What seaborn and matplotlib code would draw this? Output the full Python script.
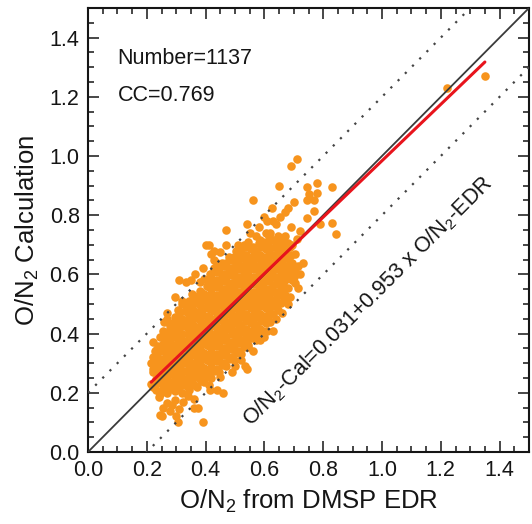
import numpy as np
import pandas as pd
import matplotlib
matplotlib.use("Agg")
import matplotlib.pyplot as plt
from matplotlib.ticker import MultipleLocator
import seaborn as sns

# ---------------- data ----------------
n_points = 1137
cc_value = 0.769
fit_intercept = 0.031
fit_slope = 0.953
band_offset = 0.2

# dense core of the cloud (x = O/N2 EDR, y = O/N2 calculation)
core_left = [
    (0.22, 0.22), (0.23, 0.245), (0.22, 0.27), (0.23, 0.295), (0.22, 0.32), (0.23, 0.345), (0.22, 0.37),
    (0.245, 0.195), (0.255, 0.215), (0.245, 0.24), (0.255, 0.265), (0.245, 0.29), (0.255, 0.315),
    (0.245, 0.34), (0.255, 0.365), (0.245, 0.39), (0.255, 0.41),
    (0.27, 0.20), (0.28, 0.225), (0.27, 0.25), (0.28, 0.275), (0.27, 0.30), (0.28, 0.325), (0.27, 0.35),
    (0.28, 0.375), (0.27, 0.40), (0.28, 0.425), (0.27, 0.45),
    (0.295, 0.205), (0.305, 0.23), (0.295, 0.255), (0.305, 0.28), (0.295, 0.305), (0.305, 0.33),
    (0.295, 0.355), (0.305, 0.38), (0.295, 0.405), (0.305, 0.43), (0.295, 0.455), (0.305, 0.48),
    (0.32, 0.20), (0.33, 0.225), (0.32, 0.25), (0.33, 0.275), (0.32, 0.30), (0.33, 0.325), (0.32, 0.35),
    (0.33, 0.375), (0.32, 0.40), (0.33, 0.425), (0.32, 0.45), (0.33, 0.475), (0.32, 0.50),
    (0.345, 0.21), (0.355, 0.235), (0.345, 0.26), (0.355, 0.285), (0.345, 0.31), (0.355, 0.335),
    (0.345, 0.36), (0.355, 0.385), (0.345, 0.41), (0.355, 0.435), (0.345, 0.46), (0.355, 0.485),
    (0.345, 0.51), (0.355, 0.535),
    (0.37, 0.22), (0.38, 0.245), (0.37, 0.27), (0.38, 0.295), (0.37, 0.32), (0.38, 0.345), (0.37, 0.37),
    (0.38, 0.395), (0.37, 0.42), (0.38, 0.445), (0.37, 0.47), (0.38, 0.495), (0.37, 0.52), (0.38, 0.545),
    (0.395, 0.235), (0.405, 0.26), (0.395, 0.285), (0.405, 0.31), (0.395, 0.335), (0.405, 0.36),
    (0.395, 0.385), (0.405, 0.41), (0.395, 0.435), (0.405, 0.46), (0.395, 0.485), (0.405, 0.51),
    (0.395, 0.535), (0.405, 0.56), (0.395, 0.585),
]
core_mid = [
    (0.42, 0.25), (0.43, 0.275), (0.42, 0.30), (0.43, 0.325), (0.42, 0.35), (0.43, 0.375), (0.42, 0.40),
    (0.43, 0.425), (0.42, 0.45), (0.43, 0.475), (0.42, 0.50), (0.43, 0.525), (0.42, 0.55), (0.43, 0.575),
    (0.42, 0.60), (0.43, 0.62),
    (0.445, 0.27), (0.455, 0.295), (0.445, 0.32), (0.455, 0.345), (0.445, 0.37), (0.455, 0.395),
    (0.445, 0.42), (0.455, 0.445), (0.445, 0.47), (0.455, 0.495), (0.445, 0.52), (0.455, 0.545),
    (0.445, 0.57), (0.455, 0.595), (0.445, 0.62), (0.455, 0.64),
    (0.47, 0.29), (0.48, 0.315), (0.47, 0.34), (0.48, 0.365), (0.47, 0.39), (0.48, 0.415), (0.47, 0.44),
    (0.48, 0.465), (0.47, 0.49), (0.48, 0.515), (0.47, 0.54), (0.48, 0.565), (0.47, 0.59), (0.48, 0.615),
    (0.47, 0.64), (0.48, 0.66),
    (0.495, 0.31), (0.505, 0.335), (0.495, 0.36), (0.505, 0.385), (0.495, 0.41), (0.505, 0.435),
    (0.495, 0.46), (0.505, 0.485), (0.495, 0.51), (0.505, 0.535), (0.495, 0.56), (0.505, 0.585),
    (0.495, 0.61), (0.505, 0.635), (0.495, 0.66), (0.505, 0.68),
    (0.52, 0.33), (0.53, 0.355), (0.52, 0.38), (0.53, 0.405), (0.52, 0.43), (0.53, 0.455), (0.52, 0.48),
    (0.53, 0.505), (0.52, 0.53), (0.53, 0.555), (0.52, 0.58), (0.53, 0.605), (0.52, 0.63), (0.53, 0.655),
    (0.52, 0.68), (0.53, 0.70),
]
core_right = [
    (0.545, 0.36), (0.555, 0.385), (0.545, 0.41), (0.555, 0.435), (0.545, 0.46), (0.555, 0.485),
    (0.545, 0.51), (0.555, 0.535), (0.545, 0.56), (0.555, 0.585), (0.545, 0.61), (0.555, 0.635),
    (0.545, 0.66), (0.555, 0.685), (0.545, 0.71),
    (0.57, 0.38), (0.58, 0.405), (0.57, 0.43), (0.58, 0.455), (0.57, 0.48), (0.58, 0.505), (0.57, 0.53),
    (0.58, 0.555), (0.57, 0.58), (0.58, 0.605), (0.57, 0.63), (0.58, 0.655), (0.57, 0.68), (0.58, 0.705),
    (0.57, 0.73),
    (0.595, 0.41), (0.605, 0.435), (0.595, 0.46), (0.605, 0.485), (0.595, 0.51), (0.605, 0.535),
    (0.595, 0.56), (0.605, 0.585), (0.595, 0.61), (0.605, 0.635), (0.595, 0.66), (0.605, 0.685),
    (0.595, 0.71), (0.605, 0.74),
    (0.62, 0.44), (0.63, 0.465), (0.62, 0.49), (0.63, 0.515), (0.62, 0.54), (0.63, 0.565), (0.62, 0.59),
    (0.63, 0.615), (0.62, 0.64), (0.63, 0.665), (0.62, 0.69), (0.63, 0.715), (0.62, 0.74),
    (0.645, 0.48), (0.655, 0.505), (0.645, 0.53), (0.655, 0.555), (0.645, 0.58), (0.655, 0.605),
    (0.645, 0.63), (0.655, 0.655), (0.645, 0.68), (0.655, 0.705), (0.645, 0.73),
    (0.67, 0.53), (0.68, 0.555), (0.67, 0.58), (0.68, 0.605), (0.67, 0.63), (0.68, 0.655), (0.67, 0.68),
    (0.68, 0.705), (0.67, 0.73),
    (0.695, 0.58), (0.705, 0.61), (0.695, 0.64), (0.705, 0.67), (0.695, 0.70),
]
# further points packed between the ones above (the core is solid orange)
core_fill_left = [
    (0.236, 0.232), (0.239, 0.257), (0.236, 0.282), (0.239, 0.307), (0.236, 0.332), (0.239, 0.357),
    (0.261, 0.207), (0.264, 0.232), (0.261, 0.257), (0.264, 0.282), (0.261, 0.307), (0.264, 0.332),
    (0.261, 0.357), (0.264, 0.382), (0.261, 0.405),
    (0.286, 0.212), (0.289, 0.237), (0.286, 0.262), (0.289, 0.287), (0.286, 0.312), (0.289, 0.337),
    (0.286, 0.362), (0.289, 0.387), (0.286, 0.412), (0.289, 0.437),
    (0.311, 0.212), (0.314, 0.237), (0.311, 0.262), (0.314, 0.287), (0.311, 0.312), (0.314, 0.337),
    (0.311, 0.362), (0.314, 0.387), (0.311, 0.412), (0.314, 0.437), (0.311, 0.462),
    (0.336, 0.222), (0.339, 0.247), (0.336, 0.272), (0.339, 0.297), (0.336, 0.322), (0.339, 0.347),
    (0.336, 0.372), (0.339, 0.397), (0.336, 0.422), (0.339, 0.447), (0.336, 0.472), (0.339, 0.497),
    (0.361, 0.227), (0.364, 0.252), (0.361, 0.277), (0.364, 0.302), (0.361, 0.327), (0.364, 0.352),
    (0.361, 0.377), (0.364, 0.402), (0.361, 0.427), (0.364, 0.452), (0.361, 0.477), (0.364, 0.502),
    (0.361, 0.527),
    (0.386, 0.24), (0.389, 0.265), (0.386, 0.29), (0.389, 0.315), (0.386, 0.34), (0.389, 0.365),
    (0.386, 0.39), (0.389, 0.415), (0.386, 0.44), (0.389, 0.465), (0.386, 0.49), (0.389, 0.515),
    (0.386, 0.54),
]
core_fill_mid = [
    (0.411, 0.257), (0.414, 0.282), (0.411, 0.307), (0.414, 0.332), (0.411, 0.357), (0.414, 0.382),
    (0.411, 0.407), (0.414, 0.432), (0.411, 0.457), (0.414, 0.482), (0.411, 0.507), (0.414, 0.532),
    (0.411, 0.557), (0.414, 0.582),
    (0.436, 0.282), (0.439, 0.307), (0.436, 0.332), (0.439, 0.357), (0.436, 0.382), (0.439, 0.407),
    (0.436, 0.432), (0.439, 0.457), (0.436, 0.482), (0.439, 0.507), (0.436, 0.532), (0.439, 0.557),
    (0.436, 0.582), (0.439, 0.607),
    (0.461, 0.302), (0.464, 0.327), (0.461, 0.352), (0.464, 0.377), (0.461, 0.402), (0.464, 0.427),
    (0.461, 0.452), (0.464, 0.477), (0.461, 0.502), (0.464, 0.527), (0.461, 0.552), (0.464, 0.577),
    (0.461, 0.602), (0.464, 0.627),
    (0.486, 0.322), (0.489, 0.347), (0.486, 0.372), (0.489, 0.397), (0.486, 0.422), (0.489, 0.447),
    (0.486, 0.472), (0.489, 0.497), (0.486, 0.522), (0.489, 0.547), (0.486, 0.572), (0.489, 0.597),
    (0.486, 0.622), (0.489, 0.647),
    (0.511, 0.342), (0.514, 0.367), (0.511, 0.392), (0.514, 0.417), (0.511, 0.442), (0.514, 0.467),
    (0.511, 0.492), (0.514, 0.517), (0.511, 0.542), (0.514, 0.567), (0.511, 0.592), (0.514, 0.617),
    (0.511, 0.642), (0.514, 0.667),
]
core_fill_right = [
    (0.536, 0.367), (0.539, 0.392), (0.536, 0.417), (0.539, 0.442), (0.536, 0.467), (0.539, 0.492),
    (0.536, 0.517), (0.539, 0.542), (0.536, 0.567), (0.539, 0.592), (0.536, 0.617), (0.539, 0.642),
    (0.536, 0.667), (0.539, 0.692),
    (0.561, 0.392), (0.564, 0.417), (0.561, 0.442), (0.564, 0.467), (0.561, 0.492), (0.564, 0.517),
    (0.561, 0.542), (0.564, 0.567), (0.561, 0.592), (0.564, 0.617), (0.561, 0.642), (0.564, 0.667),
    (0.561, 0.692),
    (0.586, 0.417), (0.589, 0.442), (0.586, 0.467), (0.589, 0.492), (0.586, 0.517), (0.589, 0.542),
    (0.586, 0.567), (0.589, 0.592), (0.586, 0.617), (0.589, 0.642), (0.586, 0.667), (0.589, 0.692),
    (0.586, 0.717),
    (0.611, 0.452), (0.614, 0.477), (0.611, 0.502), (0.614, 0.527), (0.611, 0.552), (0.614, 0.577),
    (0.611, 0.602), (0.614, 0.627), (0.611, 0.652), (0.614, 0.677), (0.611, 0.702), (0.614, 0.727),
    (0.636, 0.492), (0.639, 0.517), (0.636, 0.542), (0.639, 0.567), (0.636, 0.592), (0.639, 0.617),
    (0.636, 0.642), (0.639, 0.667), (0.636, 0.692), (0.639, 0.717),
    (0.661, 0.542), (0.664, 0.567), (0.661, 0.592), (0.664, 0.617), (0.661, 0.642), (0.664, 0.667),
    (0.661, 0.692), (0.664, 0.717),
    (0.686, 0.592), (0.689, 0.617), (0.686, 0.642), (0.689, 0.667), (0.686, 0.692),
]
# scattered points around the core
scatter_low = [
    (0.255, 0.15), (0.28, 0.14), (0.296, 0.175), (0.323, 0.17), (0.30, 0.12), (0.39, 0.10),
    (0.305, 0.10), (0.25, 0.12), (0.24, 0.185), (0.375, 0.15), (0.44, 0.21), (0.46, 0.20),
    (0.45, 0.255), (0.34, 0.19), (0.228, 0.34), (0.235, 0.32), (0.22, 0.28), (0.54, 0.28),
    (0.245, 0.125), (0.285, 0.16), (0.36, 0.15), (0.415, 0.21), (0.27, 0.165), (0.41, 0.225),
    (0.36, 0.18), (0.31, 0.145), (0.23, 0.21), (0.215, 0.23), (0.215, 0.30),
]
scatter_high_left = [
    (0.47, 0.75), (0.54, 0.77), (0.41, 0.70), (0.43, 0.68), (0.45, 0.675), (0.47, 0.70), (0.51, 0.70),
    (0.42, 0.67), (0.335, 0.575), (0.38, 0.575), (0.415, 0.60), (0.44, 0.64), (0.296, 0.525),
    (0.32, 0.51), (0.31, 0.58), (0.40, 0.70), (0.35, 0.58), (0.27, 0.47), (0.26, 0.44), (0.365, 0.60),
    (0.39, 0.62), (0.43, 0.65),
]
scatter_high_right = [
    (0.71, 0.99), (0.69, 0.965), (0.56, 0.85), (0.65, 0.90), (0.745, 0.895), (0.78, 0.91),
    (0.78, 0.875), (0.83, 0.895), (0.75, 0.87), (0.745, 0.85), (0.77, 0.85), (0.70, 0.845),
    (0.68, 0.825), (0.67, 0.81), (0.653, 0.795), (0.625, 0.825), (0.77, 0.815), (0.745, 0.79),
    (0.79, 0.77), (0.83, 0.773), (0.845, 0.735), (0.72, 0.745), (0.61, 0.78), (0.63, 0.78),
    (0.60, 0.795), (0.64, 0.77), (0.69, 0.76), (0.71, 0.72), (0.58, 0.76), (0.55, 0.74),
    (0.73, 0.64), (0.715, 0.63), (0.70, 0.59), (0.705, 0.57), (0.715, 0.555), (0.687, 0.525),
    (0.665, 0.515), (0.63, 0.41), (0.585, 0.38), (0.545, 0.355), (0.535, 0.29), (0.61, 0.41),
    (0.575, 0.385), (0.66, 0.47), (0.68, 0.50), (0.64, 0.45), (0.60, 0.39), (0.56, 0.34),
    (0.50, 0.29), (0.52, 0.31), (0.49, 0.27), (0.72, 0.60),
    (1.22, 1.23), (1.35, 1.27),
]

all_pts = (core_left + core_mid + core_right + core_fill_left + core_fill_mid + core_fill_right
           + scatter_low + scatter_high_left + scatter_high_right)
df = pd.DataFrame(all_pts, columns=["edr", "cal"])

x_ticks = [0.0, 0.2, 0.4, 0.6, 0.8, 1.0, 1.2, 1.4]
y_ticks = [0.0, 0.2, 0.4, 0.6, 0.8, 1.0, 1.2, 1.4]
axis_range = [0.0, 1.5]

# ---------------- style ----------------
sns.set_style("ticks")
plt.rcParams["font.family"] = ["Liberation Sans", "DejaVu Sans"]
plt.rcParams["mathtext.fontset"] = "custom"
plt.rcParams["mathtext.rm"] = "Liberation Sans"
plt.rcParams["mathtext.it"] = "Liberation Sans:italic"

ink = "#151515"
fig = plt.figure(figsize=(5.32, 5.24), dpi=100)
ax = fig.add_axes([88 / 532, (524 - 452) / 524, (529 - 88) / 532, (452 - 8) / 524])

sns.scatterplot(data=df, x="edr", y="cal", color="#F7941D", s=38, linewidth=0,
                ax=ax, zorder=2, legend=False)

# 1:1 line and +/- band
ref = np.array(axis_range)
ax.plot(ref, ref, color="#3a3a3a", lw=1.3, zorder=3)
ax.plot(ref, ref + band_offset, color="#444444", lw=1.6, ls=(0, (1.0, 3.6)), zorder=3)
ax.plot(ref, ref - band_offset, color="#444444", lw=1.6, ls=(0, (1.0, 3.6)), zorder=3)

# fitted line over the x range of the data
fx = np.array([df["edr"].min(), df["edr"].max()])
fit_df = pd.DataFrame({"edr": fx, "cal": fit_intercept + fit_slope * fx})
sns.lineplot(data=fit_df, x="edr", y="cal", color="#E8141C", lw=2.2, ax=ax, zorder=4)

ax.set_xlim(axis_range)
ax.set_ylim(axis_range)
ax.set_xticks(x_ticks)
ax.set_yticks(y_ticks)
ax.set_xticklabels([f"{v:.1f}" for v in x_ticks])
ax.set_yticklabels([f"{v:.1f}" for v in y_ticks])
ax.xaxis.set_minor_locator(MultipleLocator(0.05))
ax.yaxis.set_minor_locator(MultipleLocator(0.05))
ax.tick_params(which="both", direction="in", top=True, right=True, width=1.1, color=ink,
               labelsize=15.5, labelcolor=ink)
ax.tick_params(which="major", length=8, pad=6)
ax.tick_params(which="minor", length=4)
for sp in ax.spines.values():
    sp.set_linewidth(1.5)
    sp.set_color(ink)

ax.set_xlabel("O/N$_\\mathregular{2}$ from DMSP EDR", fontsize=18.5, labelpad=5, color=ink)
ax.set_ylabel("O/N$_\\mathregular{2}$ Calculation", fontsize=18.5, labelpad=6, color=ink)

ax.text(0.10, 1.33, f"Number={n_points}", fontsize=15.5, ha="left", va="center", color=ink)
ax.text(0.10, 1.205, f"CC={cc_value:.3f}", fontsize=15.5, ha="left", va="center", color=ink)
ax.text(0.952, 0.508,
        f"O/N$_\\mathregular{{2}}$-Cal={fit_intercept:.3f}+{fit_slope:.3f} x O/N$_\\mathregular{{2}}$-EDR",
        fontsize=15.5, rotation=45, rotation_mode="anchor", ha="center", va="center", color=ink)

fig.savefig("out.png", dpi=100)
